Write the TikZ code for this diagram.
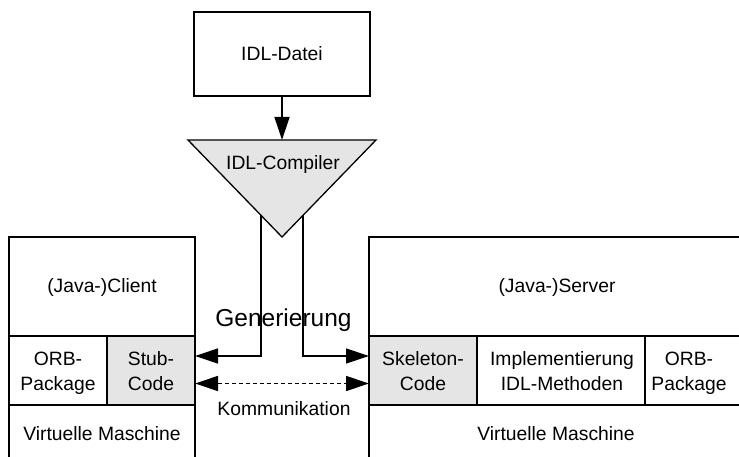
\documentclass[tikz,border=0pt]{standalone}
\usepackage{fontspec}
\setmainfont{Liberation Sans}
\usetikzlibrary{arrows.meta}
\tikzset{
  ln/.style={line width=1.3bp},
  cell/.style={ln, draw=black, inner sep=0pt, outer sep=0pt, rectangle},
  shade/.style={fill=black!10},
  txt/.style={inner sep=0pt, anchor=base, align=center,
    font=\fontsize{19.3bp}{25.5bp}\selectfont},
  big/.style={inner sep=0pt, anchor=base, font=\fontsize{24.5bp}{28bp}\selectfont},
  tip/.style={-{Triangle[length=23bp,width=15bp]}},
  tips/.style={{Triangle[length=23bp,width=15bp]}-{Triangle[length=23bp,width=15bp]}},
}
\begin{document}
\begin{tikzpicture}[x=1bp,y=-1bp]
  \clip (0,0) rectangle (739,457);
  \fill[white] (0,0) rectangle (739,457);

  % source file and compiler
  \node[cell, minimum width=176bp, minimum height=84bp] (idl) at (282,54) {};
  \node[txt] (idlt) at (282,60.7) {IDL-Datei};

  \coordinate (ctop) at (282,140);
  \coordinate (cl) at (188,140);
  \coordinate (cr) at (376,140);
  \coordinate (capex) at (282,237);
  \coordinate (outl) at (261,215.3);
  \coordinate (outr) at (303,215.3);

  % client side
  \node[cell, minimum width=186bp, minimum height=99bp] (cltop) at (102,286.5) {};
  \node[cell, minimum width=98bp, minimum height=69bp] (clorb) at (58,370.5) {};
  \node[cell, shade, minimum width=88bp, minimum height=69bp] (stub) at (151,370.5) {};
  \node[cell, minimum width=186bp, minimum height=80bp] (clvm) at (102,445) {};

  % server side
  \node[cell, minimum width=391bp, minimum height=99bp] (svtop) at (564.5,286.5) {};
  \node[cell, shade, minimum width=108bp, minimum height=69bp] (skel) at (423,370.5) {};
  \node[cell, minimum width=168bp, minimum height=69bp] (impl) at (561,370.5) {};
  \node[cell, minimum width=115bp, minimum height=69bp] (svorb) at (702.5,370.5) {};
  \node[cell, minimum width=391bp, minimum height=80bp] (svvm) at (564.5,445) {};

  % generated code paths
  \draw[ln, tip] (outl) -- (261,356) -- (stub.east |- 0,356);
  \draw[ln, tip] (outr) -- (303,356) -- (skel.west |- 0,356);
  \draw[ln, dash pattern=on 4bp off 3bp, tips]
    (stub.east |- 0,383.5) -- (skel.west |- 0,383.5);

  % compiler triangle
  \draw[ln, shade, line join=miter] (cl) -- (cr) -- (capex) -- cycle;
  \draw[ln, tip] (idl.south) -- (ctop);
  \node[txt] (cmp) at (283,170) {IDL-Compiler};

  % labels (two-line labels sit on the baseline of their last line)
  \node[txt] (clt) at (102,292.7) {(Java-)Client};
  \node[txt] (svt) at (557,292.7) {(Java-)Server};
  \node[big] (gen) at (283.5,326.7) {Generierung};
  \node[txt] (orbl) at (58,390.8) {ORB-\\Package};
  \node[txt] (stubt) at (151,390.8) {Stub-\\Code};
  \node[txt] (skelt) at (423,390.8) {Skeleton-\\Code};
  \node[txt] (implt) at (562,390.8) {Implementierung\\IDL-Methoden};
  \node[txt] (orbr) at (689,390.8) {ORB-\\Package};
  \node[txt] (komm) at (284,415.5) {Kommunikation};
  \node[txt] (vml) at (102,440) {Virtuelle Maschine};
  \node[txt] (vmr) at (556,440) {Virtuelle Maschine};
\end{tikzpicture}
\end{document}
